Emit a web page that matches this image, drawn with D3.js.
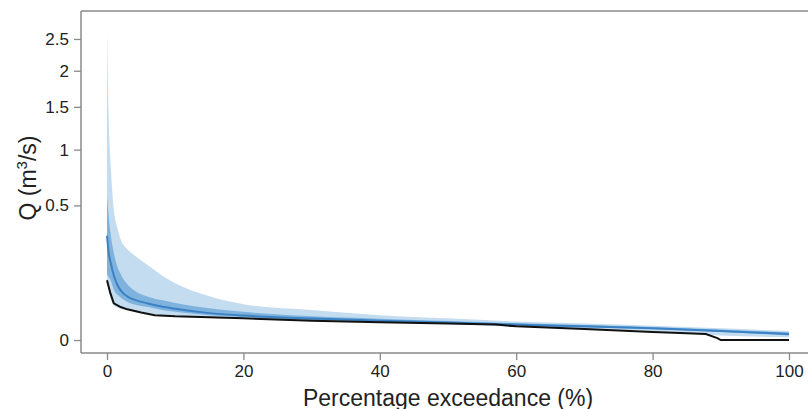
<!DOCTYPE html>
<html>
<head>
<meta charset="utf-8">
<script src="https://cdn.jsdelivr.net/npm/d3@7"></script>
<style>
  body { margin: 0; background: #fff; }
  svg text { font-family: "Liberation Sans", Arial, sans-serif; fill: #222; }
</style>
</head>
<body>
<svg class="fdc-svg" width="808" height="409"></svg>
<script>
// percentage exceedance grid for simulated bands
var pctX = [0, 0.25, 0.5, 1, 1.5, 2, 3, 4, 6, 8, 10, 15, 20, 30, 40, 50, 60, 70, 80, 90, 100];

// outer (light) band
var outerHi = [2.65, 1.34, 0.9, 0.47, 0.35, 0.28, 0.227, 0.198, 0.154, 0.116, 0.089, 0.053, 0.0355, 0.0247, 0.017, 0.013, 0.0095, 0.0075, 0.0056, 0.0038, 0.0022];
var outerLo = [0.09, 0.07, 0.05, 0.033, 0.029, 0.027, 0.024, 0.022, 0.019, 0.017, 0.015, 0.0135, 0.0125, 0.0100, 0.0085, 0.0070, 0.0048, 0.0036, 0.0020, 0.0006, 0.0002];

// inner (medium) band
var innerHi = [0.57, 0.42, 0.32, 0.21, 0.15, 0.12, 0.085, 0.068, 0.052, 0.044, 0.038, 0.028, 0.022, 0.0155, 0.0125, 0.010, 0.0078, 0.0062, 0.0047, 0.0031, 0.0016];
var innerLo = [0.12, 0.11, 0.10, 0.07, 0.057, 0.05, 0.04, 0.035, 0.03, 0.025, 0.022, 0.017, 0.0145, 0.0112, 0.0090, 0.0074, 0.0054, 0.0044, 0.0032, 0.0018, 0.0006];

// median of simulations
var median = [0.30, 0.21, 0.17, 0.115, 0.085, 0.068, 0.052, 0.045, 0.037, 0.031, 0.027, 0.020, 0.0165, 0.0127, 0.0104, 0.0084, 0.0066, 0.0052, 0.0039, 0.0023, 0.0010];

// observed flow duration curve
var obsX = [0, 0.5, 1, 2, 3, 5, 7, 10, 15, 20, 30, 40, 50, 57, 60, 70, 80, 85, 87.8, 89.5, 90, 100];
var obsQ = [0.099, 0.06, 0.037, 0.030, 0.026, 0.021, 0.017, 0.0155, 0.0143, 0.013, 0.0102, 0.0088, 0.0075, 0.0066, 0.0052, 0.0034, 0.0018, 0.0013, 0.0010, 0.0001, 0, 0];

var xTicks = [0, 20, 40, 60, 80, 100];
var yTicks = [0, 0.5, 1, 1.5, 2, 2.5];

var svg = d3.select(".fdc-svg");

var plotL = 81, plotR = 808, plotT = 11, plotB = 353;

var x = d3.scaleLinear().domain([0, 100]).range([107, 789]);
// square-root axis, extended slightly below zero
var y = d3.scaleSqrt().domain([-0.004624, 2.986]).range([plotB, plotT]);

var bands = pctX.map(function(d, i) {
    return { x: d, oHi: outerHi[i], oLo: outerLo[i], iHi: innerHi[i], iLo: innerLo[i], med: median[i] };
});
var obs = obsX.map(function(d, i) { return { x: d, q: obsQ[i] }; });

var outerArea = d3.area()
    .x(function(d) { return x(d.x); })
    .y0(function(d) { return y(d.oLo); })
    .y1(function(d) { return y(d.oHi); })
    .curve(d3.curveMonotoneX);

var innerArea = d3.area()
    .x(function(d) { return x(d.x); })
    .y0(function(d) { return y(d.iLo); })
    .y1(function(d) { return y(d.iHi); })
    .curve(d3.curveMonotoneX);

var medLine = d3.line()
    .x(function(d) { return x(d.x); })
    .y(function(d) { return y(d.med); })
    .curve(d3.curveMonotoneX);

var obsLine = d3.line()
    .x(function(d) { return x(d.x); })
    .y(function(d) { return y(d.q); });

svg.append("path").datum(bands)
    .attr("d", outerArea)
    .attr("fill", "#c4dcf0");

svg.append("path").datum(bands)
    .attr("d", innerArea)
    .attr("fill", "#7fb3de");

svg.append("path").datum(bands)
    .attr("d", medLine)
    .attr("fill", "none")
    .attr("stroke", "#3a82c4")
    .attr("stroke-width", 2);

svg.append("path").datum(obs)
    .attr("d", obsLine)
    .attr("fill", "none")
    .attr("stroke", "#111")
    .attr("stroke-width", 2);

// frame: top line, left and bottom axis lines
var frame = svg.append("g").attr("stroke", "#8a8a8a").attr("stroke-width", 1.5);
frame.append("line").attr("x1", plotL).attr("x2", plotR).attr("y1", plotT).attr("y2", plotT);
frame.append("line").attr("x1", plotL).attr("x2", plotL).attr("y1", plotT).attr("y2", plotB);
frame.append("line").attr("x1", plotL).attr("x2", plotR).attr("y1", plotB).attr("y2", plotB);

var xAxis = svg.append("g")
    .attr("transform", "translate(0," + plotB + ")")
    .call(d3.axisBottom(x).tickValues(xTicks).tickSize(7).tickPadding(5));

var yAxis = svg.append("g")
    .attr("transform", "translate(" + plotL + ",0)")
    .call(d3.axisLeft(y).tickValues(yTicks).tickSize(7).tickPadding(5)
        .tickFormat(function(d) { return d; }));

[xAxis, yAxis].forEach(function(g) {
    g.select(".domain").remove();
    g.selectAll(".tick line").attr("stroke", "#8a8a8a").attr("stroke-width", 1.3);
    g.selectAll(".tick text").attr("font-size", 17).attr("fill", "#222")
        .style("font-family", "'Liberation Sans', Arial, sans-serif");
});

svg.append("text")
    .attr("x", x(50))
    .attr("y", 406)
    .attr("text-anchor", "middle")
    .attr("font-size", 23)
    .text("Percentage exceedance (%)");

var yt = svg.append("text")
    .attr("transform", "translate(36,178) rotate(-90)")
    .attr("text-anchor", "middle")
    .attr("font-size", 23);
yt.append("tspan").text("Q (m");
yt.append("tspan").attr("font-size", 15).attr("dy", -9).text("3");
yt.append("tspan").attr("dy", 9).text("/s)");
</script>
</body>
</html>
